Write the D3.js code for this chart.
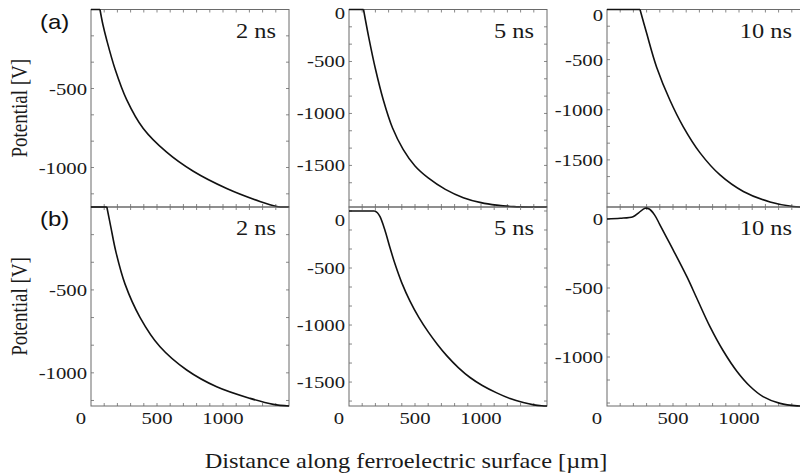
<!DOCTYPE html>
<html lang="en">
<head>
<meta charset="utf-8">
<title>Potential along ferroelectric surface</title>
<script src="https://cdn.jsdelivr.net/npm/d3@7"></script>
<style>
  body { margin: 0; background: #fff; }
  .serif { font-family: "Liberation Serif", "Times New Roman", serif; fill: #1a1a1a; }
</style>
</head>
<body>
<script>
// panel data: [distance in um, potential in V]
var a2ns = [[0,0],[68,0],[90,-95],[119,-193],[182,-376],[270,-570],[396,-753],[573,-903],[775,-1024],[1028,-1133],[1280,-1215],[1407,-1247],[1440,-1250],[1500,-1250]];
var a5ns = [[0,0],[110,0],[150,-270],[200,-570],[260,-870],[330,-1140],[410,-1345],[500,-1505],[600,-1620],[730,-1730],[866,-1810],[1000,-1858],[1119,-1882],[1250,-1896],[1371,-1900],[1500,-1900]];
var a10ns = [[0,0],[250,0],[300,-235],[376,-575],[477,-905],[578,-1170],[705,-1430],[856,-1650],[1033,-1815],[1235,-1920],[1409,-1965],[1500,-1970]];
var b2ns = [[0,0],[120,0],[150,-120],[190,-275],[258,-465],[371,-665],[523,-843],[725,-983],[952,-1084],[1205,-1154],[1381,-1190],[1500,-1200]];
var b5ns = [[0,0],[195,0],[215,-15],[235,-50],[270,-160],[310,-320],[350,-470],[400,-630],[462,-790],[530,-935],[600,-1060],[670,-1170],[740,-1268],[830,-1375],[917,-1460],[1010,-1530],[1119,-1595],[1220,-1645],[1320,-1680],[1400,-1700],[1460,-1708],[1500,-1710]];
var b10ns = [[0,0],[100,5],[197,17],[240,45],[288,78],[320,72],[360,30],[400,-40],[455,-140],[500,-222],[606,-420],[682,-578],[780,-780],[879,-953],[985,-1105],[1083,-1212],[1182,-1287],[1311,-1336],[1440,-1354],[1500,-1355]];

var times = ["2 ns", "5 ns", "10 ns"];
var rowLabels = ["(a)", "(b)"];
var xDomain = [0, 1500];
var xTickLabels = [0, 500, 1000];
var yDomains = [[[-1250, 0], [-1900, 0], [-1970, 0]],
                [[-1200, 0], [-1710, 35], [-1355, 87]]];
var yTickLabels = [[[-500, -1000], [0, -500, -1000, -1500], [0, -500, -1000, -1500]],
                   [[-500, -1000], [0, -500, -1000, -1500], [0, -500, -1000]]];
var series = [[a2ns, a5ns, a10ns], [b2ns, b5ns, b10ns]];

var w = 800, h = 475;
var panelLeft = [91, 349, 607];
var panelW = 198;
var rowTop = [9.5, 207];
var rowBottom = [207, 406];
var zeroLabelDy = [[0, 0, 1.5], [0, 9, 0]];
var stretch = 1.22;   // the type in the original is wide

var svg = d3.select("body").append("svg")
  .attr("width", w)
  .attr("height", h);

function wideText(x, y, size, anchor, txt) {
  return svg.append("text").attr("class", "serif")
    .attr("transform", "translate(" + x + "," + y + ") scale(" + stretch + ",1)")
    .attr("text-anchor", anchor)
    .style("font-size", size + "px")
    .text(txt);
}

for (var r = 0; r < 2; r++) {
  for (var c = 0; c < 3; c++) {
    var x = d3.scaleLinear().domain(xDomain).range([panelLeft[c], panelLeft[c] + panelW]);
    var y = d3.scaleLinear().domain(yDomains[r][c]).range([rowBottom[r], rowTop[r]]);
    var g = svg.append("g");

    // minor ticks on all four sides, pointing in
    d3.range(100, 1500, 100).forEach(function(t) {
      g.append("line").attr("x1", x(t)).attr("x2", x(t))
        .attr("y1", rowTop[r]).attr("y2", rowTop[r] + 3)
        .attr("stroke", "#888").attr("stroke-width", 1);
      g.append("line").attr("x1", x(t)).attr("x2", x(t))
        .attr("y1", rowBottom[r]).attr("y2", rowBottom[r] - 3)
        .attr("stroke", "#888").attr("stroke-width", 1);
    });
    var yt = d3.range(-3000, 1, 500 / 3).filter(function(t) {
      return y(t) > rowTop[r] + 2 && y(t) < rowBottom[r] - 2;
    });
    yt.forEach(function(t) {
      g.append("line").attr("x1", panelLeft[c]).attr("x2", panelLeft[c] + 3)
        .attr("y1", y(t)).attr("y2", y(t))
        .attr("stroke", "#888").attr("stroke-width", 1);
      g.append("line").attr("x1", panelLeft[c] + panelW).attr("x2", panelLeft[c] + panelW - 3)
        .attr("y1", y(t)).attr("y2", y(t))
        .attr("stroke", "#888").attr("stroke-width", 1);
    });

    // frame
    g.append("rect")
      .attr("x", panelLeft[c]).attr("y", rowTop[r])
      .attr("width", panelW).attr("height", rowBottom[r] - rowTop[r])
      .attr("fill", "none").attr("stroke", "#6a6a6a").attr("stroke-width", 1);

    // curve: straight plateau, then a smooth spline from the corner on
    var data = series[r][c];
    var k = 0;
    while (k + 1 < data.length && data[k + 1][1] == data[0][1]) k++;
    var flat = d3.line().x(function(d) { return x(d[0]); }).y(function(d) { return y(d[1]); });
    var smooth = d3.line().curve(d3.curveCatmullRom.alpha(0.5))
      .x(function(d) { return x(d[0]); }).y(function(d) { return y(d[1]); });
    var dStr = (k > 0 ? flat(data.slice(0, k + 1)) : "") + smooth(data.slice(k));
    g.append("path")
      .attr("d", dStr)
      .attr("fill", "none").attr("stroke", "#111").attr("stroke-width", 1.6)
      .attr("stroke-linejoin", "round");

    // y tick labels
    yTickLabels[r][c].forEach(function(t) {
      var ty = Math.max(y(t), rowTop[r] + 3.5) + (t == 0 ? zeroLabelDy[r][c] : 0);
      wideText(panelLeft[c] - 4, ty + 6, 17, "end", t);
    });

    // x tick labels on the bottom row
    if (r == 1) {
      xTickLabels.forEach(function(t) {
        wideText(t == 0 ? x(t) - 5 : x(t), 424, 17, t == 0 ? "end" : "middle", t);
      });
    }

    // time label
    wideText(panelLeft[c] + panelW - 13, rowTop[r] + 28, 20, "end", times[c]);
  }

  svg.append("text")
    .attr("transform", "translate(40," + (rowTop[r] + 19) + ") scale(1.2,1)")
    .style("font-family", "'Liberation Sans', Arial, sans-serif")
    .style("font-size", "20px")
    .attr("fill", "#111")
    .text(rowLabels[r]);

  svg.append("text").attr("class", "serif")
    .attr("transform", "translate(27," + ((rowTop[r] + rowBottom[r]) / 2) + ") rotate(-90) scale(1," + stretch + ")")
    .attr("text-anchor", "middle")
    .style("font-size", "19px")
    .text("Potential [V]");
}

wideText(406, 468, 20, "middle", "Distance along ferroelectric surface [\u00b5m]");
</script>
</body>
</html>
